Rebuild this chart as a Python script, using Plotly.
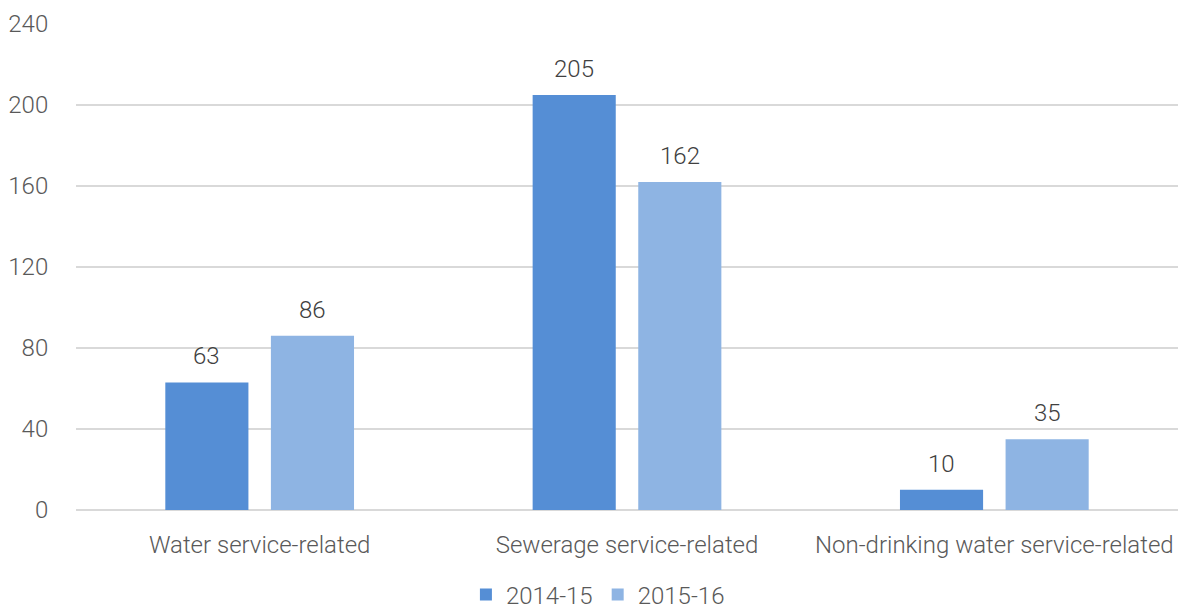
import plotly.graph_objects as go

categories = ["Water service-related", "Sewerage service-related", "Non-drinking water service-related"]
series_names = ["2014-15", "2015-16"]
values_2014_15 = [63, 205, 10]
values_2015_16 = [86, 162, 35]
y_ticks = [0, 40, 80, 120, 160, 200, 240]

colors = ["#558ED5", "#8EB4E3"]
font_family = "Roboto"
text_color = "#595959"
label_color = "#404040"

W, H = 1184, 607
margin = dict(l=76, r=6, t=24, b=97)
bargap, bargroupgap = 0.425, 0.213

fig = go.Figure()
for name, vals, col in zip(series_names, [values_2014_15, values_2015_16], colors):
    fig.add_trace(go.Bar(
        x=categories, y=vals, name=name,
        marker=dict(color=col, line=dict(width=0)),
        cliponaxis=False,
    ))

# value labels above each bar, offset horizontally to sit over the grouped bars
plot_w = W - margin["l"] - margin["r"]
slot = plot_w / len(categories) * (1 - bargap) / len(series_names)
for i, vals in enumerate([values_2014_15, values_2015_16]):
    shift = (i - (len(series_names) - 1) / 2) * slot
    for cat, v in zip(categories, vals):
        fig.add_annotation(
            x=cat, y=v, text=str(v), showarrow=False,
            xshift=shift, yshift=26, yanchor="middle",
            font=dict(family=font_family, size=24, color=label_color, weight=300),
        )

fig.update_layout(
    width=W, height=H,
    margin=margin,
    paper_bgcolor="white", plot_bgcolor="white",
    barmode="group", bargap=bargap, bargroupgap=bargroupgap,
    font=dict(family=font_family, size=24, color=text_color, weight=300),
    showlegend=True,
    legend=dict(orientation="h", x=0.505, xanchor="center", xref="container",
                y=1 - 595 / H, yanchor="middle", yref="container",
                font=dict(size=24, color=text_color, weight=300),
                itemwidth=30, traceorder="normal"),
    xaxis=dict(showline=False, ticks="outside", ticklen=13, tickcolor="rgba(0,0,0,0)",
               tickfont=dict(size=24, weight=300), automargin=False),
    yaxis=dict(range=[0, 240], tickvals=y_ticks, showgrid=True, gridcolor="#D9D9D9",
               gridwidth=1.5, zeroline=True, zerolinecolor="#D9D9D9", zerolinewidth=1.5,
               ticks="outside", ticklen=22, tickcolor="rgba(0,0,0,0)",
               tickfont=dict(size=24, weight=300), automargin=False),
)

fig.write_html("out.html")
